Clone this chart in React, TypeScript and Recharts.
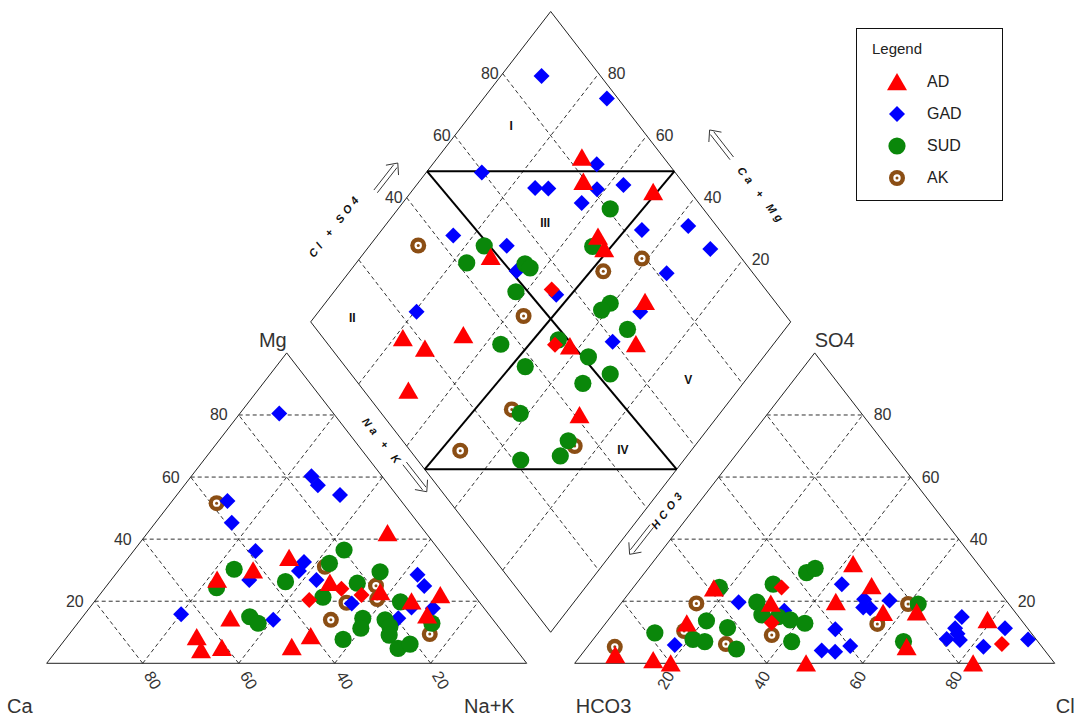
import React from "react";
import { ScatterChart, Scatter, XAxis, YAxis, ReferenceLine } from "recharts";

const W = 1079;
const HGT = 719;
const H = Math.sqrt(3) / 2;

// page mapping of the ternary units (100 units = one triangle side)
const PX_PER_X = 4.8;
const PX_PER_Y = 3.584;
const ORIGIN_PX = 46.7;
const BASE_PX = 663.3;

const TICKS = [20, 40, 60, 80];

// cation triangle: [Mg %, Na+K %]
const AD_CATIONS = [[42, 50], [34, 33.5], [30, 28], [27, 22], [26, 46], [23, 58], [20, 66], [22, 71], [15.5, 71.5], [14.5, 31], [8.5, 27], [4.3, 30], [5, 34], [5.3, 48.4], [8.8, 50.6]];
const AD_CATIONS_ALT = [[24, 49.4], [22, 54.6], [20.4, 44.5]];
const GAD_CATIONS = [[80.5, 8.2], [60.3, 25], [57.4, 27.8], [54.2, 34], [52.3, 11.5], [45.3, 15.9], [36.2, 25.4], [32.6, 37.3], [29.7, 37.7], [26.8, 28.8], [15.8, 20.1], [14, 40.2], [26.8, 42.8], [19.3, 53.9], [28.5, 63], [24.9, 66.2], [18, 67], [17.7, 71.6], [14.5, 66]];
const SUD_CATIONS = [[30.3, 23.9], [24.4, 23.2], [26.3, 36.6], [15, 34.8], [12.9, 37.6], [36.5, 43.7], [32.2, 42.8], [25.8, 51.8], [29.5, 54.7], [21.3, 46.9], [19.8, 63.8], [12.9, 73.8], [14.5, 58.6], [11.3, 59.8], [7.7, 57.9], [14, 63.5], [11.8, 65.6], [9.1, 66.8], [4.8, 70.8], [6.2, 72.6]];
const AK_CATIONS = [[51.6, 9.6], [31.1, 42.4], [25, 56.1], [20.7, 58.5], [19.5, 52.7], [14, 52.2], [9.4, 75.1]];

// anion triangle: [SO4 %, Cl %]
const AD_ANIONS = [[32, 42], [24.9, 49.4], [24.2, 16.9], [19.3, 31.2], [19.8, 44.5], [16.3, 56.1], [16.5, 63], [12.9, 16.9], [2.7, 7.1], [1.1, 15.8], [0, 20], [0, 48.2], [5.3, 66.5], [14, 79], [0, 83]];
const AD_ANIONS_ALT = [[24.4, 30.9], [13.1, 34.5], [6.2, 85.9]];
const GAD_ANIONS = [[25.5, 42.9], [19.7, 24.3], [20.6, 50], [18, 51.1], [17.7, 52.7], [20.2, 55.5], [11, 48.8], [4.1, 49.4], [3.7, 52.4], [5.6, 54.6], [5.9, 17.9], [14.9, 73.2], [11.3, 73.6], [7.8, 73.6], [7.5, 76.5], [9.5, 75], [5.3, 82.5], [11.3, 84], [7.7, 90.6], [16.9, 35.2]];
const SUD_ANIONS = [[29.2, 33.7], [30.6, 34.8], [25.5, 28.6], [24.5, 17.9], [19.7, 28.1], [19.1, 62], [15.6, 31.2], [15, 34.9], [14, 37.9], [12.9, 41.5], [7, 41.7], [13.7, 20.6], [11.5, 26.1], [4.6, 31.4], [7.7, 20.8], [7, 23.6], [9.8, 11.8], [7, 65]];
const AK_ANIONS = [[19.1, 59.9], [12.7, 56.7], [19.3, 15.7], [9.1, 36.5], [6.2, 28.4], [10.4, 17.6], [5.3, 5.7]];

// diamond: [Na+K %, Cl+SO4 %]
const AD_DIAMOND = [[30, 83], [34.2, 79.4], [50.4, 92.3], [46.1, 73.6], [49.4, 72.9], [27, 48], [66.4, 72.9], [21.8, 16.6], [28.1, 19.5], [33.9, 29.7], [57.9, 50.1], [71.3, 64.2], [31.4, 9.3], [71, 41]];
const AD_DIAMOND_ALT = [[45, 55.4], [54.6, 47.2]];
const GAD_DIAMOND = [[8.5, 87.7], [25.7, 97.7], [11.6, 59.7], [34.2, 85], [38.3, 81], [25.2, 68.3], [28, 71], [43.1, 87.2], [37.3, 75.6], [54.2, 83.8], [63.2, 94.1], [71.5, 95], [66.3, 82], [15.8, 43.6], [28.6, 53.1], [34.7, 51.1], [46.8, 55.5], [20.4, 23.7], [67, 70.3], [66.1, 59.7]];
const SUD_DIAMOND = [[44.2, 80.6], [46.6, 70.9], [23.9, 48.4], [23, 42], [35.3, 54], [37, 54.4], [37.9, 47.6], [59.4, 65.4], [58.7, 62.5], [67.2, 64.8], [43.2, 36], [54.5, 48.7], [63.5, 52.2], [51.9, 37.5], [70.8, 54], [66.6, 46.8], [58.4, 28.9], [72.8, 34.5], [73.6, 30.4], [66, 21.5]];
const AK_DIAMOND = [[10.1, 34.7], [58.8, 79.2], [52.8, 69.1], [43.4, 45.3], [56, 27.8], [51.9, 10.4], [75, 35]];

const GROUPS = ["AD", "GAD", "SUD", "AK"];
const FACIES = ["I", "II", "III", "IV", "V"];

const COLORS = { AD: "#ff0000", GAD: "#0000ff", SUD: "#0a870a", AK: "#8b4e14" };
const FONT = "'Liberation Sans', Arial, sans-serif";

// ternary -> chart units
const cat = ([mg, nak]) => ({ x: nak + mg / 2, y: mg * H });
const ani = ([so4, cl]) => ({ x: 110 + cl + so4 / 2, y: so4 * H });
const dia = ([a, c]) => ({ x: 55 + (a + c) / 2, y: H * (110 - a + c) });

const seg = (p, q) => [{ x: p.x, y: p.y }, { x: q.x, y: q.y }];

const gridSegs = [];
TICKS.forEach((v) => {
  gridSegs.push(seg(cat([v, 0]), cat([v, 100 - v])));
  gridSegs.push(seg(cat([0, v]), cat([100 - v, v])));
  gridSegs.push(seg(cat([0, 100 - v]), cat([100 - v, 0])));
  gridSegs.push(seg(ani([v, 0]), ani([v, 100 - v])));
  gridSegs.push(seg(ani([0, v]), ani([100 - v, v])));
  gridSegs.push(seg(ani([0, 100 - v]), ani([100 - v, 0])));
  gridSegs.push(seg(dia([v, 0]), dia([v, 100])));
  gridSegs.push(seg(dia([0, v]), dia([100, v])));
});

const ring = (pts) => pts.map((p, i) => seg(p, pts[(i + 1) % pts.length]));
const outlineSegs = [
  ...ring([cat([0, 0]), cat([100, 0]), cat([0, 100])]),
  ...ring([ani([0, 0]), ani([100, 0]), ani([0, 100])]),
  ...ring([dia([0, 0]), dia([0, 100]), dia([100, 100]), dia([100, 0])]),
];

const faciesSegs = [
  seg(dia([0, 48.5]), dia([51.5, 100])),
  seg(dia([47.5, 0]), dia([100, 52.5])),
  seg(dia([0, 48.5]), dia([100, 52.5])),
  seg(dia([51.5, 100]), dia([47.5, 0])),
];

// text and arrows, anchored on the diagram geometry plus a pixel offset
const labels = [];
TICKS.forEach((v) => {
  const t = String(v);
  labels.push({ ...cat([v, 0]), text: t, dx: -11, dy: 0, anchor: "end", size: 16 });
  labels.push({ ...cat([0, 100 - v]), text: t, dx: 10, dy: 17, rot: 60, size: 16 });
  labels.push({ ...ani([v, 100 - v]), text: t, dx: 11, dy: 0, anchor: "start", size: 16 });
  labels.push({ ...ani([0, v]), text: t, dx: -5, dy: 17, rot: -60, size: 16 });
  labels.push({ ...dia([100 - v, 100]), text: t, dx: 9, dy: 0, anchor: "start", size: 16 });
  if (v >= 40) labels.push({ ...dia([0, v]), text: t, dx: -4, dy: 0, anchor: "end", size: 16 });
});
labels.push({ ...cat([0, 0]), text: "Ca", dx: -14, dy: 43, anchor: "end", size: 20 });
labels.push({ ...cat([0, 100]), text: "Na+K", dx: -12, dy: 43, anchor: "end", size: 20 });
labels.push({ ...cat([100, 0]), text: "Mg", dx: 0, dy: -13, anchor: "end", size: 20 });
labels.push({ ...ani([0, 0]), text: "HCO3", dx: 1, dy: 43, anchor: "start", size: 20 });
labels.push({ ...ani([0, 100]), text: "Cl", dx: 1, dy: 43, anchor: "start", size: 20 });
labels.push({ ...ani([100, 0]), text: "SO4", dx: 0, dy: -13, anchor: "start", size: 20 });
labels.push({ ...dia([0, 25]), text: "Cl + SO4", dx: -36, dy: -19, rot: -52, size: 11, axis: true });
labels.push({ ...dia([70, 100]), text: "Ca + Mg", dx: 43, dy: -33, rot: 52, size: 11, axis: true });
labels.push({ ...dia([30, 0]), text: "Na + K", dx: 0, dy: 27, rot: 52, size: 11, axis: true });
labels.push({ ...dia([100, 40]), text: "HCO3", dx: 21, dy: 1, rot: -52, size: 11, axis: true });
labels.push({ ...dia([0, 45]), arrow: true, dx: -32, dy: -5, rot: -52 });
labels.push({ ...dia([45, 100]), arrow: true, dx: 62, dy: -7, rot: -128 });
labels.push({ ...dia([45, 0]), arrow: true, dx: -3, dy: 16, rot: 52 });
labels.push({ ...dia([100, 30]), arrow: true, dx: 18, dy: 1, rot: 128 });
[[10.2, 73.3], [8, 9.3], [32.9, 64.8], [85.7, 44.4], [88, 69.3]].forEach((p, i) =>
  labels.push({ ...dia(p), text: FACIES[i], dx: 0, dy: 0, size: 12, bold: true })
);

function Marker({ kind, cx, cy }) {
  const c = COLORS[kind];
  if (kind === "AD")
    return <polygon points={`${cx},${cy - 9} ${cx + 10},${cy + 8.3} ${cx - 10},${cy + 8.3}`} fill={c} />;
  if (kind === "GAD" || kind === "ADALT")
    return (
      <polygon
        points={`${cx},${cy - 8} ${cx + 8},${cy} ${cx},${cy + 8} ${cx - 8},${cy}`}
        fill={kind === "ADALT" ? COLORS.AD : c}
      />
    );
  if (kind === "SUD") return <circle cx={cx} cy={cy} r={8.6} fill={c} />;
  return (
    <g>
      <circle cx={cx} cy={cy} r={8} fill={c} />
      <circle cx={cx} cy={cy} r={3.7} fill="#fff" />
      <circle cx={cx} cy={cy} r={1.5} fill={c} />
    </g>
  );
}

const shapeOf = (kind) => (props) => {
  if (props.cx == null || props.cy == null) return <g />;
  return <Marker kind={kind} cx={props.cx} cy={props.cy} />;
};

function LabelShape(props) {
  const { cx, cy, payload } = props;
  if (cx == null || payload == null) return <g />;
  const x = cx + (payload.dx || 0);
  const y = cy + (payload.dy || 0);
  const rot = payload.rot || 0;
  if (payload.arrow) {
    return (
      <g transform={`translate(${x} ${y}) rotate(${rot})`} stroke="#333" strokeWidth={0.9} fill="none">
        <line x1={-18} y1={-2.2} x2={14} y2={-2.2} />
        <line x1={-18} y1={2.2} x2={14} y2={2.2} />
        <polyline points="9,-8 18,0 9,8" />
      </g>
    );
  }
  return (
    <text
      x={x}
      y={y}
      transform={rot ? `rotate(${rot} ${x} ${y})` : undefined}
      textAnchor={payload.anchor || "middle"}
      dominantBaseline="central"
      fontFamily={FONT}
      fontSize={payload.size}
      fontWeight={payload.bold || payload.axis ? 700 : 400}
      fontStyle={payload.axis ? "italic" : "normal"}
      letterSpacing={payload.axis ? 4 : 0}
      fill={payload.bold || payload.axis ? "#111" : "#333"}
    >
      {payload.text}
    </text>
  );
}

const seriesData = {
  AD: [...AD_CATIONS.map(cat), ...AD_ANIONS.map(ani), ...AD_DIAMOND.map(dia)],
  ADALT: [...AD_CATIONS_ALT.map(cat), ...AD_ANIONS_ALT.map(ani), ...AD_DIAMOND_ALT.map(dia)],
  GAD: [...GAD_CATIONS.map(cat), ...GAD_ANIONS.map(ani), ...GAD_DIAMOND.map(dia)],
  SUD: [...SUD_CATIONS.map(cat), ...SUD_ANIONS.map(ani), ...SUD_DIAMOND.map(dia)],
  AK: [...AK_CATIONS.map(cat), ...AK_ANIONS.map(ani), ...AK_DIAMOND.map(dia)],
};
const DRAW_ORDER = ["AK", "GAD", "SUD", "AD", "ADALT"];

const X_DOMAIN = [-ORIGIN_PX / PX_PER_X, (W - ORIGIN_PX) / PX_PER_X];
const Y_DOMAIN = [-(HGT - BASE_PX) / PX_PER_Y, BASE_PX / PX_PER_Y];

function LegendBox() {
  return (
    <div
      style={{
        position: "absolute",
        left: 856,
        top: 28,
        width: 147,
        height: 173,
        border: "1.5px solid #111",
        boxSizing: "border-box",
        background: "#fff",
        fontFamily: FONT,
        color: "#222",
      }}
    >
      <div style={{ position: "absolute", left: 15, top: 11, fontSize: 15 }}>Legend</div>
      {GROUPS.map((g, i) => (
        <div key={g} style={{ position: "absolute", left: 0, top: 41 + i * 32, height: 24, width: 140 }}>
          <svg width={24} height={24} style={{ position: "absolute", left: 28, top: 0 }}>
            <Marker kind={g} cx={12} cy={12} />
          </svg>
          <span style={{ position: "absolute", left: 70, top: 3, fontSize: 16 }}>{g}</span>
        </div>
      ))}
    </div>
  );
}

export default function App() {
  return (
    <div style={{ position: "absolute", left: 0, top: 0, width: W, height: HGT, background: "#fff" }}>
      <ScatterChart width={W} height={HGT} margin={{ top: 0, right: 0, bottom: 0, left: 0 }}>
        <XAxis type="number" dataKey="x" domain={X_DOMAIN} hide allowDataOverflow />
        <YAxis type="number" dataKey="y" domain={Y_DOMAIN} hide allowDataOverflow />
        {gridSegs.map((s, i) => (
          <ReferenceLine key={`g${i}`} segment={s} stroke="#1a1a1a" strokeWidth={0.9} strokeDasharray="4 3" ifOverflow="visible" />
        ))}
        {outlineSegs.map((s, i) => (
          <ReferenceLine key={`o${i}`} segment={s} stroke="#222" strokeWidth={1} ifOverflow="visible" />
        ))}
        {faciesSegs.map((s, i) => (
          <ReferenceLine key={`f${i}`} segment={s} stroke="#000" strokeWidth={2} ifOverflow="visible" />
        ))}
        <Scatter data={labels} shape={LabelShape} isAnimationActive={false} />
        {DRAW_ORDER.map((k) => (
          <Scatter key={k} name={k} data={seriesData[k]} shape={shapeOf(k)} isAnimationActive={false} />
        ))}
      </ScatterChart>
      <LegendBox />
    </div>
  );
}
